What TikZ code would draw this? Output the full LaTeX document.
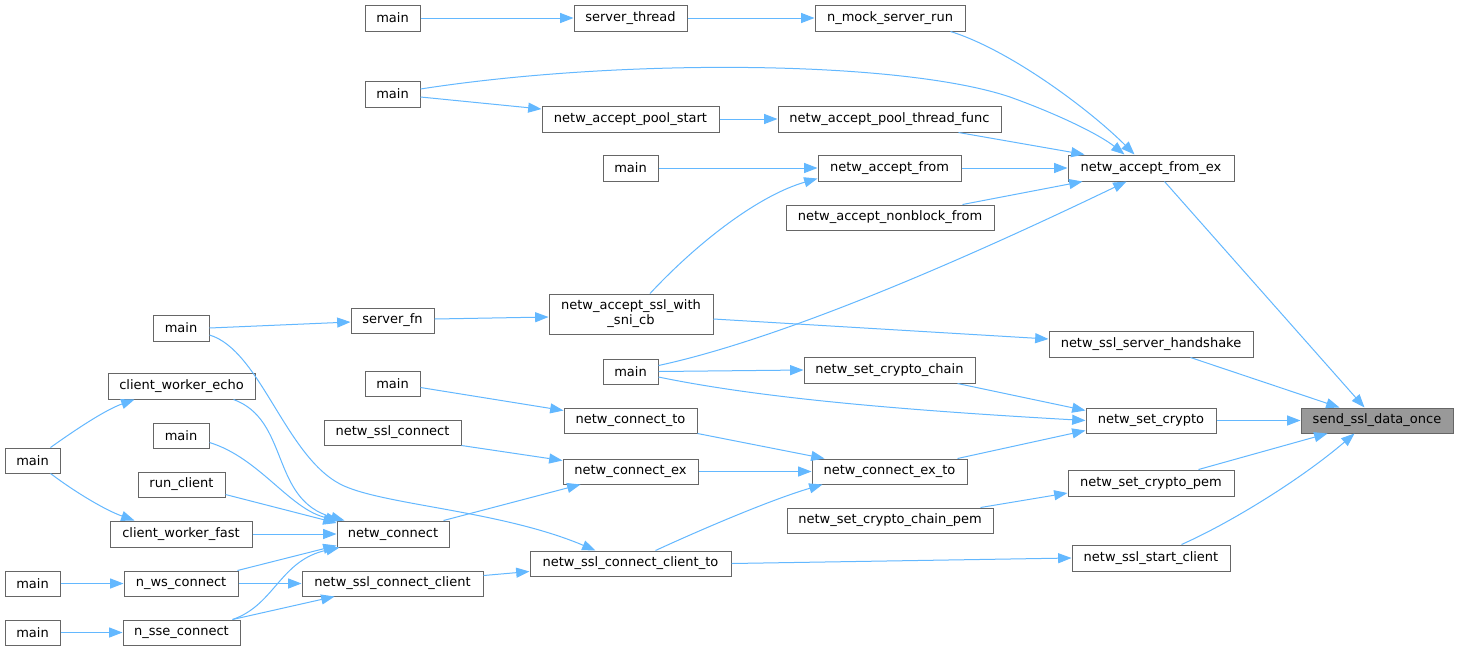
\documentclass[tikz,border=0pt]{standalone}
\usepackage{fontspec}
\setmainfont{DejaVu Sans}
\usetikzlibrary{arrows.meta,calc}
\definecolor{edgec}{HTML}{63B8FF}
\definecolor{boxc}{HTML}{666666}
\definecolor{rootc}{HTML}{999999}
\newcommand\callnode[7][]{\node[box,#1,minimum width={(#5-#3)*0.75pt},minimum height={(#6-#4)*0.75pt}] (#2) at ({(#3+#5)/2},{(#4+#6)/2}) {#7};}
\begin{document}
\begin{tikzpicture}[x=0.75pt,y=-0.75pt,
  box/.style={draw=boxc,line width=0.75pt,fill=white,inner sep=0pt,font=\fontsize{9.75}{11.25}\selectfont,align=center},
  edge/.style={draw=edgec,line width=0.75pt,-{Triangle[length=10pt,width=7.5pt]}}]
\fill[white] (0,0) rectangle (1459,651);
\useasboundingbox (0,0) rectangle (1459,651);
% nodes
\callnode{mA}{365}{5}{420}{31}{main}
\callnode{sthread}{574}{5}{687}{31}{server\_thread}
\callnode{nmock}{815}{5}{965}{31}{n\_mock\_server\_run}
\callnode{mB}{365}{81}{420}{107}{main}
\callnode{pstart}{542}{106}{719}{132}{netw\_accept\_pool\_start}
\callnode{pthread}{778}{106}{1001}{132}{netw\_accept\_pool\_thread\_func}
\callnode{mC}{603}{155}{658}{181}{main}
\callnode{afrom}{818}{155}{961}{181}{netw\_accept\_from}
\callnode{nonblock}{786}{205}{994}{230}{netw\_accept\_nonblock\_from}
\callnode{fromex}{1068}{155}{1234}{181}{netw\_accept\_from\_ex}
\callnode{sni}{549}{294}{713}{334}{netw\_accept\_ssl\_with\\\_sni\_cb}
\callnode{mD}{153}{315}{209}{341}{main}
\callnode{sfn}{351}{308}{434}{333}{server\_fn}
\callnode{hshake}{1049}{331}{1253}{357}{netw\_ssl\_server\_handshake}
\callnode{mE}{603}{359}{658}{384}{main}
\callnode{cchain}{804}{357}{975}{383}{netw\_set\_crypto\_chain}
\callnode{echo}{108}{373}{255}{399}{client\_worker\_echo}
\callnode{mF}{365}{371}{420}{396}{main}
\callnode{cto}{564}{408}{697}{433}{netw\_connect\_to}
\callnode{scrypto}{1086}{408}{1216}{433}{netw\_set\_crypto}
\callnode[fill=rootc]{send}{1301}{408}{1453}{433}{send\_ssl\_data\_once}
\callnode{sslconn}{324}{420}{461}{445}{netw\_ssl\_connect}
\callnode{mG}{153}{423}{209}{448}{main}
\callnode{mH}{5}{448}{60}{473}{main}
\callnode{cex}{563}{459}{698}{484}{netw\_connect\_ex}
\callnode{cexto}{812}{459}{967}{484}{netw\_connect\_ex\_to}
\callnode{cpem}{1068}{470}{1234}{496}{netw\_set\_crypto\_pem}
\callnode{runc}{138}{472}{225}{497}{run\_client}
\callnode{chpem}{787}{508}{993}{533}{netw\_set\_crypto\_chain\_pem}
\callnode{fast}{110}{521}{252}{547}{client\_worker\_fast}
\callnode{nconn}{337}{521}{449}{547}{netw\_connect}
\callnode{sclient}{1072}{545}{1230}{571}{netw\_ssl\_start\_client}
\callnode{ccto}{530}{551}{731}{576}{netw\_ssl\_connect\_client\_to}
\callnode{mI}{5}{571}{60}{596}{main}
\callnode{nws}{124}{571}{238}{596}{n\_ws\_connect}
\callnode{sslcc}{302}{571}{483}{596}{netw\_ssl\_connect\_client}
\callnode{mJ}{5}{620}{60}{645}{main}
\callnode{nsse}{123}{620}{240}{645}{n\_sse\_connect}
% edges
\draw[edge] (mA.east) -- (sthread.west);
\draw[edge] (sthread.east) -- (nmock.west);
\draw[edge] ($(nmock.south east)+(-15,0)$) .. controls (1010,50) and (1090,110) .. ($(fromex.north west)+(67,0)$);
\draw[edge] ($(mB.east)+(0,-5)$) .. controls (620,58) and (900,60) .. (1010,97) .. controls (1060,115) and (1100,135) .. ($(fromex.north west)+(57,0)$);
\draw[edge] ($(mB.east)+(0,3)$) -- ($(pstart.west)+(0,-10)$);
\draw[edge] (pstart.east) -- (pthread.west);
\draw[edge] ($(pthread.south east)+(-43,0)$) -- ($(fromex.north west)+(17,0)$);
\draw[edge] (afrom.east) -- (fromex.west);
\draw[edge] ($(nonblock.north east)+(-32,0)$) -- ($(fromex.south west)+(15,0)$);
\draw[edge] (mC.east) -- (afrom.west);
\draw[edge] ($(sni.north)+(19,0)$) .. controls (700,240) and (760,195) .. ($(afrom.south west)+(0,-3)$);
\draw[edge] ($(mE.east)+(0,-6)$) .. controls (740,348) and (880,300) .. ($(fromex.south west)+(59,0)$);
\draw[edge] (mD.east) -- ($(sfn.west)+(0,1.5)$);
\draw[edge] ($(sfn.east)+(0,-1.5)$) -- ($(sni.west)+(0,3)$);
\draw[edge] ($(sni.east)+(0,5)$) -- ($(hshake.west)+(0,-5)$);
\draw[edge] ($(hshake.south east)+(-63,0)$) -- ($(send.north west)+(39,0)$);
\draw[edge] ($(fromex.south east)+(-70,0)$) -- ($(send.north west)+(64,0)$);
\draw[edge] (mE.east) -- (cchain.west);
\draw[edge] ($(mE.east)+(0,5.5)$) .. controls (760,398) and (900,410) .. (scrypto.west);
\draw[edge] ($(cchain.south east)+(-18,0)$) -- ($(scrypto.west)+(0,-10)$);
\draw[edge] (scrypto.east) -- (send.west);
\draw[edge] ($(cexto.north east)+(-10,0)$) -- ($(scrypto.west)+(0,10)$);
\draw[edge] ($(cpem.north east)+(-36,0)$) -- ($(send.south west)+(27,0)$);
\draw[edge] ($(chpem.north east)+(-13,0)$) -- ($(cpem.west)+(0,10)$);
\draw[edge] ($(sclient.north west)+(110,0)$) .. controls (1230,523) and (1300,480) .. ($(send.south west)+(54,0)$);
\draw[edge] (ccto.east) -- (sclient.west);
\draw[edge] ($(mF.east)+(0,4)$) -- ($(cto.west)+(0,-10)$);
\draw[edge] (cto.south east) -- ($(cexto.north west)+(13,0)$);
\draw[edge] (sslconn.south east) -- ($(cex.west)+(0,-11)$);
\draw[edge] (cex.east) -- (cexto.west);
\draw[edge] ($(nconn.north east)+(-6,0)$) -- ($(cex.south west)+(18,0)$);
\draw[edge] ($(ccto.north)+(25,0)$) .. controls (700,530) and (770,500) .. ($(cexto.south west)+(11,0)$);
\draw[edge] ($(mD.east)+(0,7)$) .. controls (260,350) and (285,455) .. (340,484) .. controls (380,505) and (500,510) .. ($(ccto.north west)+(66,0)$);
\draw[edge] ($(sslcc.east)+(0,-8)$) -- ($(ccto.west)+(0,8)$);
\draw[edge] ($(echo.south east)+(-22,0)$) .. controls (290,420) and (270,500) .. ($(nconn.north west)+(8,0)$);
\draw[edge] ($(mG.east)+(0,7)$) .. controls (260,458) and (290,510) .. ($(nconn.north west)+(3,0)$);
\draw[edge] ($(runc.east)+(0,10)$) -- ($(nconn.west)+(0,-11)$);
\draw[edge] (fast.east) -- (nconn.west);
\draw[edge] ($(nws.north east)+(-1,0)$) -- ($(nconn.south west)+(0,-2)$);
\draw[edge] ($(nsse.north east)+(-8,0)$) .. controls (275,605) and (280,560) .. ($(nconn.south west)+(3,0)$);
\draw[edge] (nws.east) -- (sslcc.west);
\draw[edge] ($(nsse.north east)+(-8,0)$) -- ($(sslcc.south west)+(33,0)$);
\draw[edge] ($(mH.north east)+(-10,0)$) .. controls (75,430) and (105,410) .. ($(echo.south west)+(27,0)$);
\draw[edge] ($(mH.south east)+(-10,0)$) .. controls (75,492) and (105,510) .. ($(fast.north west)+(25,0)$);
\draw[edge] (mI.east) -- (nws.west);
\draw[edge] (mJ.east) -- (nsse.west);
\end{tikzpicture}
\end{document}
